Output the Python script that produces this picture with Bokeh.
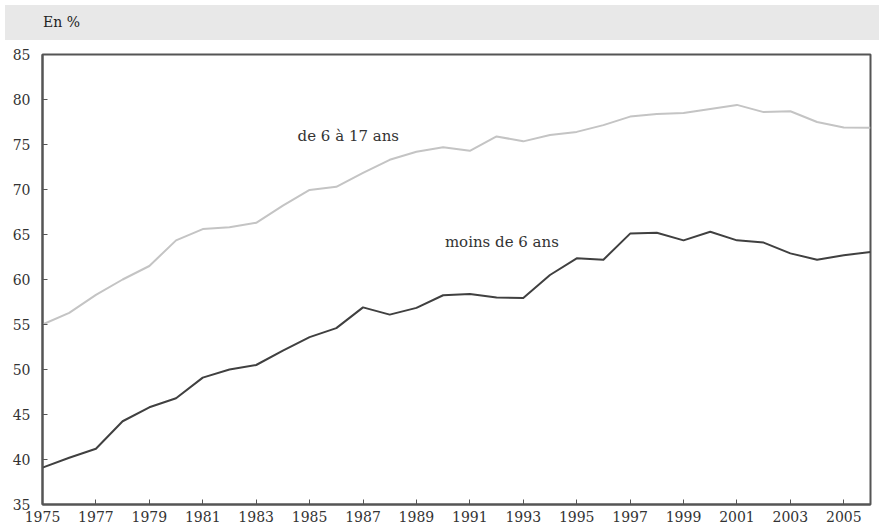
from bokeh.plotting import figure
from bokeh.models import Range1d, FixedTicker, Div, ColumnDataSource
from bokeh.layouts import column
from bokeh.core.properties import value
from bokeh.embed import file_html
from bokeh.resources import INLINE

years = list(range(1975, 2007))
age_6_17 = [55.0, 56.3, 58.3, 60.0, 61.5, 64.35, 65.6, 65.8, 66.3, 68.2, 69.95,
            70.3, 71.85, 73.3, 74.2, 74.7, 74.3, 75.9, 75.35, 76.05, 76.4,
            77.15, 78.1, 78.4, 78.5, 78.95, 79.4, 78.6, 78.7, 77.5, 76.9, 76.85]
moins_6 = [39.1, 40.2, 41.2, 44.25, 45.8, 46.8, 49.1, 50.0, 50.5, 52.1, 53.6,
           54.6, 56.9, 56.1, 56.85, 58.25, 58.4, 58.0, 57.95, 60.5, 62.35,
           62.2, 65.1, 65.2, 64.35, 65.3, 64.35, 64.1, 62.9, 62.2, 62.7, 63.05]
x_ticks = list(range(1975, 2006, 2))
y_ticks = list(range(35, 90, 5))
series_labels = ["de 6 à 17 ans", "moins de 6 ans"]
label_x = [1986.45, 1992.2]
label_y = [76.0, 64.2]
unit_label = "En %"

GRAY_BG = "#e8e8e8"
AXIS = "#555555"
FONT = "DejaVu Serif"

header = Div(
    text=f'<div style="padding-left:38px;line-height:35px;font-family:\'DejaVu Serif\';'
         f'font-size:14px;color:#222;">{unit_label}</div>',
    width=874, height=35,
    styles={"background-color": GRAY_BG},
)

p = figure(width=874, height=481, output_backend="svg", toolbar_location=None,
           x_range=Range1d(1975, 2006), y_range=Range1d(35, 85),
           min_border_left=42, min_border_right=4, min_border_top=9, min_border_bottom=22)
p.border_fill_color = "white"
p.background_fill_color = "white"
p.outline_line_color = AXIS
p.outline_line_width = 2
p.xgrid.visible = False
p.ygrid.visible = False

for ax in (p.xaxis[0], p.yaxis[0]):
    ax.axis_line_color = AXIS
    ax.axis_line_width = 2
    ax.major_tick_line_color = AXIS
    ax.major_tick_line_width = 1
    ax.major_tick_in = 5
    ax.major_tick_out = 0
    ax.minor_tick_line_color = None
    ax.major_label_text_font = FONT
    ax.major_label_text_font_size = "14px"
    ax.major_label_text_color = "#333333"

p.xaxis[0].ticker = FixedTicker(ticks=x_ticks)
p.yaxis[0].ticker = FixedTicker(ticks=y_ticks)
p.xaxis[0].major_label_standoff = 6
p.yaxis[0].major_label_standoff = 12

src = ColumnDataSource(dict(x=years, a=age_6_17, b=moins_6))
p.line("x", "a", source=src, line_color="#c4c4c4", line_width=2, line_join="round")
p.line("x", "b", source=src, line_color="#404040", line_width=2, line_join="round")

lsrc = ColumnDataSource(dict(x=label_x, y=label_y, t=series_labels))
p.text("x", "y", text="t", source=lsrc, text_font=value(FONT), text_font_size="15px",
       text_color="#333333", text_align="center", text_baseline="middle")

layout = column(header, p, spacing=0)
open("out.html", "w").write(file_html(layout, INLINE))
